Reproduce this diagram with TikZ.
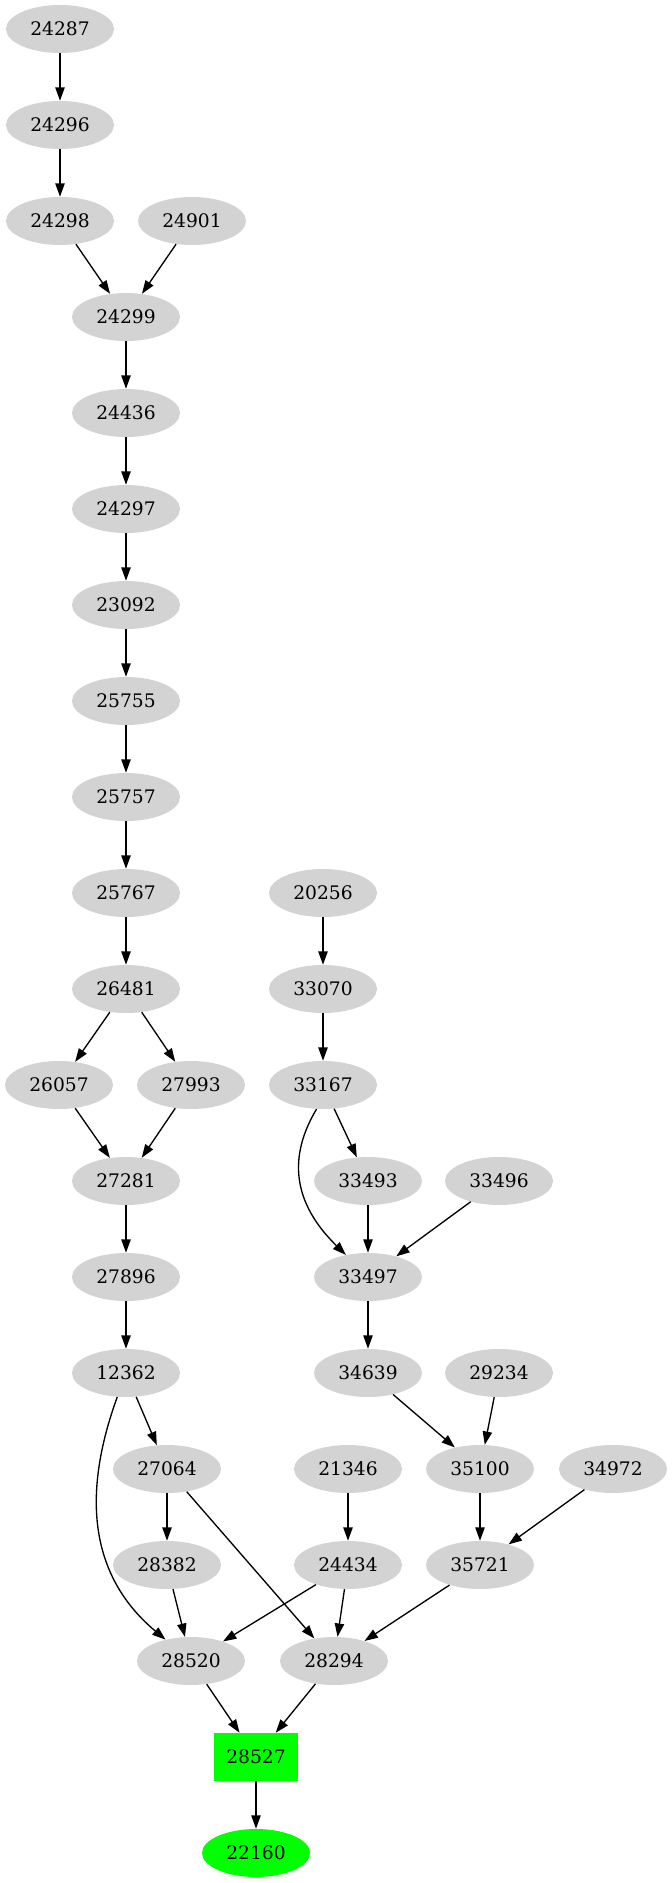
\documentclass[tikz,border=0pt]{standalone}
\usepackage{fontspec}
\setmainfont{DejaVu Serif}
\usetikzlibrary{shapes.geometric,arrows.meta}
\definecolor{nodegray}{HTML}{D3D3D3}
\definecolor{nodegreen}{HTML}{00FF00}
\begin{document}
\begin{tikzpicture}[x=0.75pt,y=-0.75pt,
  gnode/.style={ellipse,fill=nodegray,draw=none,minimum width=81pt,minimum height=36pt,inner sep=0pt,font=\fontsize{14}{16}\selectfont},
  greennode/.style={gnode,fill=nodegreen},
  boxnode/.style={rectangle,fill=nodegreen,draw=none,minimum width=63pt,minimum height=36pt,inner sep=0pt,font=\fontsize{14}{16}\selectfont},
  edge/.style={draw=black,line width=1pt,-{Triangle[length=10pt,width=7pt]}}]
\useasboundingbox (0,0) rectangle (671,1883);
\node[gnode] (n24287) at (60,29) {24287};
\node[gnode] (n24296) at (60,125) {24296};
\node[gnode] (n24298) at (60,221) {24298};
\node[gnode] (n24901) at (192,221) {24901};
\node[gnode] (n24299) at (126,317) {24299};
\node[gnode] (n24436) at (126,413) {24436};
\node[gnode] (n24297) at (126,509) {24297};
\node[gnode] (n23092) at (126,605) {23092};
\node[gnode] (n25755) at (126,701) {25755};
\node[gnode] (n25757) at (126,797) {25757};
\node[gnode] (n25767) at (126,893) {25767};
\node[gnode] (n20256) at (323,893) {20256};
\node[gnode] (n26481) at (126,989) {26481};
\node[gnode] (n33070) at (323,989) {33070};
\node[gnode] (n26057) at (59,1085) {26057};
\node[gnode] (n27993) at (191,1085) {27993};
\node[gnode] (n33167) at (323,1085) {33167};
\node[gnode] (n27281) at (126,1181) {27281};
\node[gnode] (n33493) at (368,1181) {33493};
\node[gnode] (n33496) at (499,1181) {33496};
\node[gnode] (n27896) at (126,1277) {27896};
\node[gnode] (n33497) at (368,1277) {33497};
\node[gnode] (n12362) at (126,1373) {12362};
\node[gnode] (n34639) at (368,1373) {34639};
\node[gnode] (n29234) at (499,1373) {29234};
\node[gnode] (n27064) at (167,1469) {27064};
\node[gnode] (n21346) at (348,1469) {21346};
\node[gnode] (n35100) at (480,1469) {35100};
\node[gnode] (n34972) at (613,1469) {34972};
\node[gnode] (n28382) at (167,1565) {28382};
\node[gnode] (n24434) at (348,1565) {24434};
\node[gnode] (n35721) at (480,1565) {35721};
\node[gnode] (n28520) at (191,1661) {28520};
\node[gnode] (n28294) at (334,1661) {28294};
\node[boxnode] (n28527) at (256,1757) {28527};
\node[greennode] (n22160) at (256,1853) {22160};

\draw[edge] (n24287) -- (n24296);
\draw[edge] (n24296) -- (n24298);
\draw[edge] (n24298) -- (n24299);
\draw[edge] (n24901) -- (n24299);
\draw[edge] (n24299) -- (n24436);
\draw[edge] (n24436) -- (n24297);
\draw[edge] (n24297) -- (n23092);
\draw[edge] (n23092) -- (n25755);
\draw[edge] (n25755) -- (n25757);
\draw[edge] (n25757) -- (n25767);
\draw[edge] (n25767) -- (n26481);
\draw[edge] (n26481) -- (n26057);
\draw[edge] (n26481) -- (n27993);
\draw[edge] (n26057) -- (n27281);
\draw[edge] (n27993) -- (n27281);
\draw[edge] (n27281) -- (n27896);
\draw[edge] (n27896) -- (n12362);
\draw[edge] (n12362) -- (n27064);
\draw[edge] (n12362) to[out=-110,in=140,looseness=1.05] (n28520);
\draw[edge] (n27064) -- (n28382);
\draw[edge] (n27064) -- (n28294);
\draw[edge] (n28382) -- (n28520);
\draw[edge] (n21346) -- (n24434);
\draw[edge] (n24434) -- (n28520);
\draw[edge] (n24434) -- (n28294);
\draw[edge] (n20256) -- (n33070);
\draw[edge] (n33070) -- (n33167);
\draw[edge] (n33167) -- (n33493);
\draw[edge] (n33167.255) .. controls (283,1165) and (300,1210) .. (n33497.135);
\draw[edge] (n33493) -- (n33497);
\draw[edge] (n33496) -- (n33497);
\draw[edge] (n33497) -- (n34639);
\draw[edge] (n34639) -- (n35100);
\draw[edge] (n29234) -- (n35100);
\draw[edge] (n35100) -- (n35721);
\draw[edge] (n34972) -- (n35721);
\draw[edge] (n35721) -- (n28294);
\draw[edge] (n28520) -- (n28527);
\draw[edge] (n28294) -- (n28527);
\draw[edge] (n28527) -- (n22160);
\end{tikzpicture}
\end{document}
